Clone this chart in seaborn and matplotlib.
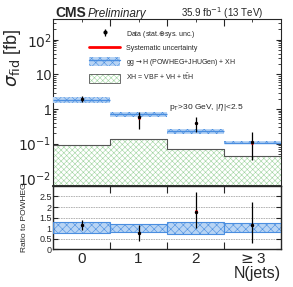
import numpy as np
import matplotlib
matplotlib.use("Agg")
import matplotlib.pyplot as plt
import seaborn as sns
from matplotlib.patches import Patch
from matplotlib.lines import Line2D

sns.set_style("ticks")
plt.rcParams['font.family'] = ['Liberation Sans', 'DejaVu Sans']
plt.rcParams['hatch.linewidth'] = 0.4

# values
bins = [0, 1, 2, 3]
edges = [0.5, 1.5, 2.5]
tick_labels = ["0", "1", "2", r"$\geq$3"]
data_xs = [2.0, 0.58, 0.40, 0.11]
data_lo = [1.6, 0.27, 0.22, 0.033]
data_hi = [2.45, 0.82, 0.59, 0.22]
sys_lo = [1.85, 0.52, 0.37, 0.10]
sys_hi = [2.15, 0.64, 0.43, 0.12]
ggh_c = [1.8, 0.70, 0.23, 0.107]
ggh_lo = [1.45, 0.58, 0.19, 0.095]
ggh_hi = [2.3, 0.82, 0.27, 0.12]
xh = [0.09, 0.14, 0.07, 0.044]
ratio = [1.14, 0.76, 1.78, 1.15]
ratio_lo = [0.9, 0.4, 1.0, 0.3]
ratio_hi = [1.38, 1.15, 2.72, 2.25]
ratio_band_lo = [0.75, 0.8, 0.74, 0.83]
ratio_band_hi = [1.3, 1.2, 1.28, 1.24]

blue = "#4a8ee0"
lblue = "#b8d4f4"
green = "#9fd49f"

fig = plt.figure(figsize=(2.93, 2.87), dpi=100)
ax = fig.add_axes([0.181, 0.352, 0.778, 0.582])
rx = fig.add_axes([0.181, 0.132, 0.778, 0.22], sharex=ax)

x = np.array(bins)
# XH histogram
ax.bar(x, xh, width=1.0, bottom=0.001, color="white", edgecolor=green,
       hatch="xxxxxx", linewidth=0, zorder=1)
ax.step(np.r_[x - 0.5, 3.5], np.r_[xh, xh[-1]], where="post", color="#555555", lw=0.8, zorder=2)
# ggH band
ax.bar(x, np.array(ggh_hi) - np.array(ggh_lo), width=1.0, bottom=ggh_lo, color=lblue,
       edgecolor=blue, hatch="xxxx", linewidth=0, zorder=3)
ax.hlines(ggh_c, x - 0.5, x + 0.5, color=blue, lw=1.0, zorder=4)

ax.vlines(x, data_lo, data_hi, color="black", lw=0.9, zorder=5)
ax.vlines(x, sys_lo, sys_hi, color="red", lw=2.0, zorder=6)
sns.scatterplot(x=x, y=data_xs, ax=ax, color="black", s=6, marker="o", linewidth=0, zorder=7)

ax.set_yscale("log")
ax.set_ylim(0.006, 400)
ax.set_xlim(-0.5, 3.5)
ax.set_ylabel(r"$\sigma_{\rm fid}$ [fb]", fontsize=13)
ax.yaxis.set_label_coords(-0.13, 0.77)
ax.tick_params(which="both", direction="in", top=True, right=True, labelbottom=False)
ax.tick_params(axis="y", labelsize=10, pad=1)
ax.set_yticks([0.01, 0.1, 1, 10, 100])
ax.set_yticklabels([r"$10^{-2}$", r"$10^{-1}$", "1", "10", r"$10^{2}$"])

# legend handles
data_h = ax.errorbar([-10], [1], yerr=[[0.5], [1.0]], fmt="o", ms=2, color="black",
                     lw=0.9, capsize=0)
handles = [
    data_h,
    Line2D([], [], color="red", lw=2),
    (Patch(facecolor=lblue, edgecolor=blue, hatch="xxxx", lw=0), Line2D([], [], color=blue, lw=1)),
    (Patch(facecolor="white", edgecolor=green, hatch="xxxxxx", lw=0),
     Patch(fill=False, edgecolor="#555555", lw=0.6)),
]
labels = ["Data (stat.$\\oplus$sys. unc.)", "Systematic uncertainty",
          "gg$\\rightarrow$H (POWHEG+JHUGen) + XH", "XH = VBF + VH + t$\\bar{\\rm t}$H"]
leg = ax.legend(handles, labels, loc="upper left", bbox_to_anchor=(0.13, 0.98), fontsize=5,
                frameon=False, handlelength=4.5, handleheight=1.6, labelspacing=0.6,
                handletextpad=0.8)
ax.text(0.51, 0.46, r"p$_{\rm T}$>30 GeV, |$\eta$|<2.5", transform=ax.transAxes, fontsize=6)

fig.text(0.19, 0.94, "CMS", fontsize=10, fontweight="bold")
fig.text(0.30, 0.94, "Preliminary", fontsize=8.5, style="italic")
fig.text(0.898, 0.94, r"35.9 fb$^{-1}$ (13 TeV)", fontsize=7, ha="right")

# ratio panel
for yv in [0.5, 1.0, 1.5, 2.0, 2.5]:
    rx.axhline(yv, color="#aaaaaa", lw=0.6, ls=(0, (2, 1)), zorder=0)
rx.bar(x, np.array(ratio_band_hi) - np.array(ratio_band_lo), width=1.0, bottom=ratio_band_lo,
       color=lblue, edgecolor=blue, hatch="xxxx", linewidth=0, zorder=2)
rx.bar(x, np.array(ratio_band_hi) - np.array(ratio_band_lo), width=1.0, bottom=ratio_band_lo,
       fill=False, edgecolor=blue, linewidth=0.8, zorder=3)
rx.vlines(x, ratio_lo, ratio_hi, color="black", lw=0.9, zorder=5)
rx.vlines(x, np.array(ratio) - 0.06, np.array(ratio) + 0.06, color="red", lw=2.0, zorder=6)
sns.scatterplot(x=x, y=ratio, ax=rx, color="black", s=6, marker="o", linewidth=0, zorder=7)
rx.set_ylim(0, 3)
rx.set_yticks([0, 0.5, 1, 1.5, 2, 2.5])
rx.set_yticklabels(["0", "0.5", "1", "1.5", "2", "2.5"])
rx.tick_params(axis="y", labelsize=6.5, pad=1)
rx.tick_params(which="both", direction="in", top=True, right=True)
rx.set_ylabel("Ratio to POWHEG", fontsize=6)
rx.yaxis.set_label_coords(-0.11, 0.5)

# ticks at bin edges, labels at bin centres
rx.set_xticks(edges)
rx.set_xticklabels([])
rx.set_xticks(bins, minor=True)
rx.set_xticklabels(tick_labels, minor=True, fontsize=11)
rx.tick_params(axis="x", which="minor", length=0, pad=2)
rx.tick_params(axis="x", which="major", length=5)
ax.tick_params(axis="x", which="major", length=5)
rx.set_xlabel("N(jets)", fontsize=11.5, loc="right", labelpad=0)
for s in rx.spines.values():
    s.set_linewidth(1.0)
ax.spines["bottom"].set_linewidth(1.3)

fig.savefig("out.png", dpi=100)
